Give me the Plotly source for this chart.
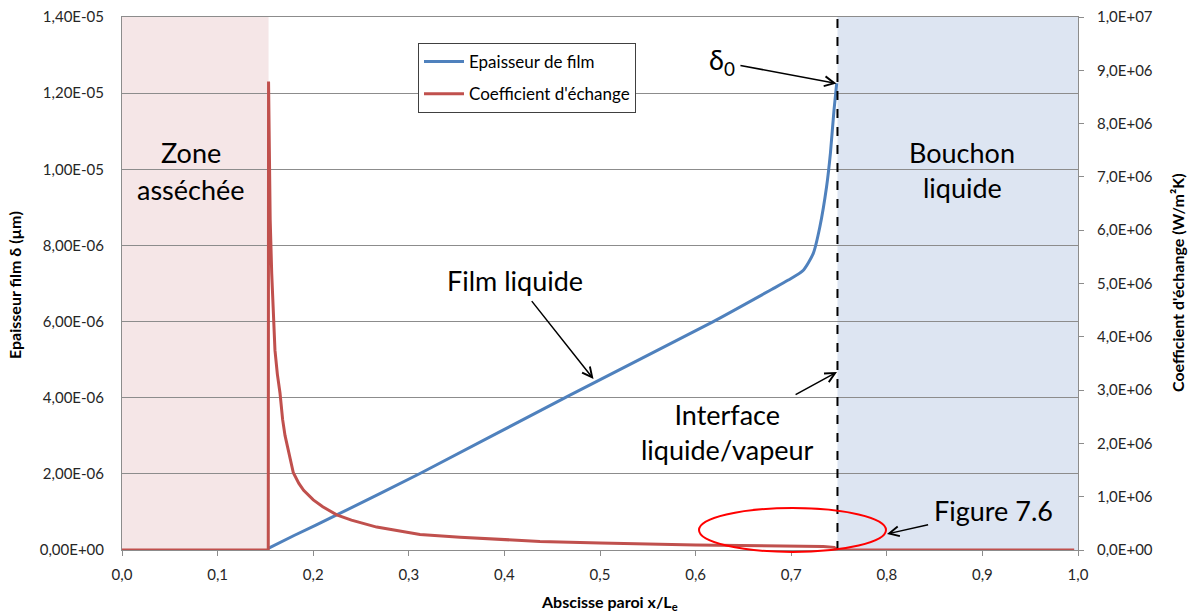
import plotly.graph_objects as go

# ---- data ----
x_film = [0.1535, 0.180, 0.2246, 0.3117, 0.4686, 0.6185, 0.680, 0.697, 0.7127,
          0.7231, 0.730, 0.737, 0.741, 0.7448, 0.7476]
film_thickness = [0.05e-6, 0.38e-6, 0.92e-6, 2.01e-6, 4.07e-6, 6.00e-6, 6.85e-6, 7.09e-6, 7.35e-6,
                  7.79e-6, 8.49e-6, 9.54e-6, 10.42e-6, 11.56e-6, 12.26e-6]

x_coef = [0.0, 0.1530, 0.1533, 0.1550, 0.1566, 0.1583, 0.1600, 0.1625, 0.1653, 0.1680,
          0.1705, 0.1730, 0.1757, 0.1792, 0.1850, 0.1900, 0.2001, 0.2100, 0.2246, 0.2400,
          0.2664, 0.2900, 0.3117, 0.3536, 0.4000, 0.4372, 0.5000, 0.5418, 0.6000, 0.6464,
          0.7000, 0.7336, 0.7450, 0.7484, 0.8500, 0.9960]
exchange_coef = [0.0, 0.0, 8.79e6, 6.20e6, 5.19e6, 4.30e6, 3.75e6, 3.30e6, 2.94e6, 2.45e6,
                 2.15e6, 1.95e6, 1.72e6, 1.45e6, 1.25e6, 1.12e6, 0.94e6, 0.81e6, 0.66e6, 0.56e6,
                 0.43e6, 0.35e6, 0.29e6, 0.24e6, 0.19e6, 0.16e6, 0.13e6, 0.11e6, 0.095e6, 0.085e6,
                 0.075e6, 0.065e6, 0.05e6, 0.0, 0.0, 0.0]

x_tick_vals = [0.0, 0.1, 0.2, 0.3, 0.4, 0.5, 0.6, 0.7, 0.8, 0.9, 1.0]
x_tick_text = ["0,0", "0,1", "0,2", "0,3", "0,4", "0,5", "0,6", "0,7", "0,8", "0,9", "1,0"]
y_tick_vals = [0, 2e-6, 4e-6, 6e-6, 8e-6, 10e-6, 12e-6, 14e-6]
y_tick_text = ["0,00E+00", "2,00E-06", "4,00E-06", "6,00E-06", "8,00E-06",
               "1,00E-05", "1,20E-05", "1,40E-05"]
y2_tick_vals = [i * 1e6 for i in range(11)]
y2_tick_text = ["0,0E+00", "1,0E+06", "2,0E+06", "3,0E+06", "4,0E+06", "5,0E+06",
                "6,0E+06", "7,0E+06", "8,0E+06", "9,0E+06", "1,0E+07"]

dry_end = 0.1533
interface_x = 0.7484

FONT = "Lato"
BLUE = "#4F81BD"
RED = "#C0504D"
GRID = "#8C8C8C"

fig = go.Figure()
fig.add_trace(go.Scatter(x=x_film, y=film_thickness, mode="lines", name="Epaisseur de film",
                         line=dict(color=BLUE, width=3, shape="spline", smoothing=0.6),
                         yaxis="y", legendgroup="a"))
fig.add_trace(go.Scatter(x=x_coef, y=exchange_coef, mode="lines", name="Coefficient d'échange",
                         line=dict(color=RED, width=3), yaxis="y2", legendgroup="b"))


def px_x(p):
    return (p - 122) / 956


def px_y(p):
    return (550 - p) / 533


shapes = [
    dict(type="rect", xref="x", yref="paper", x0=0, x1=dry_end, y0=0, y1=1,
         fillcolor="#F5E6E7", line=dict(width=0), layer="below"),
    dict(type="rect", xref="x", yref="paper", x0=interface_x, x1=1.0, y0=0, y1=1,
         fillcolor="#DDE5F2", line=dict(width=0), layer="below"),
    dict(type="line", xref="x", yref="paper", x0=interface_x, x1=interface_x, y0=0, y1=1,
         line=dict(color="black", width=2, dash="dash"), layer="above"),
    dict(type="circle", xref="x", yref="paper", x0=px_x(699), x1=px_x(886),
         y0=px_y(552), y1=px_y(508),
         line=dict(color="#FF0000", width=2), layer="above"),
]


def txt(xp, yp, s, size=27):
    return dict(x=px_x(xp), y=px_y(yp), xref="x", yref="paper", text=s, showarrow=False,
                xanchor="center", yanchor="middle",
                font=dict(family=FONT, size=size, color="black"))


def arrow_txt(hx, hy, tx, ty, s, size=27):
    # text centred at (tx, ty) pixels, arrow head at (hx, hy) pixels
    return dict(x=px_x(hx), y=px_y(hy), xref="x", yref="paper",
                ax=tx - hx, ay=ty - hy, axref="pixel", ayref="pixel",
                text=s, showarrow=True, arrowhead=5, arrowsize=1.3, arrowwidth=1.5,
                arrowcolor="black", standoff=0, startstandoff=4,
                xanchor="center", yanchor="middle",
                font=dict(family=FONT, size=size, color="black"))


title_font = dict(family=FONT, size=16, color="black")

annotations = [
    txt(191, 152, "Zone"),
    txt(191, 189, "asséchée"),
    txt(962, 152, "Bouchon"),
    txt(962, 187, "liquide"),
    arrow_txt(593.5, 379, 515, 280, "Film liquide"),
    arrow_txt(837, 372, 727, 432, "Interface<br>liquide/vapeur"),
    arrow_txt(887, 534, 993, 510, "Figure 7.6"),
    arrow_txt(836.5, 83.5, 722, 62, "δ<sub>0</sub>", size=27),
    # axis titles
    dict(x=px_x(14), y=px_y(285), xref="paper", yref="paper", text="<b>Epaisseur film δ (µm)</b>",
         textangle=-90, showarrow=False, xanchor="center", yanchor="middle", font=title_font),
    dict(x=px_x(1177), y=px_y(283), xref="paper", yref="paper",
         text="<b>Coefficient d'échange (W/m²K)</b>",
         textangle=-90, showarrow=False, xanchor="center", yanchor="middle", font=title_font),
    dict(x=px_x(609), y=px_y(602), xref="paper", yref="paper",
         text="<b>Abscisse paroi x/L<sub>e</sub></b>",
         showarrow=False, xanchor="center", yanchor="middle", font=title_font),
]

tickfont = dict(family=FONT, size=15, color="#262626")

fig.update_layout(
    width=1189, height=613,
    margin=dict(l=122, r=111, t=17, b=63),
    paper_bgcolor="white", plot_bgcolor="white",
    showlegend=True,
    legend=dict(x=px_x(418), y=px_y(43), xanchor="left", yanchor="top",
                bgcolor="white", bordercolor="#404040", borderwidth=1,
                font=dict(family=FONT, size=17, color="black"),
                tracegroupgap=7, itemwidth=40),
    xaxis=dict(range=[0, 1], tickvals=x_tick_vals, ticktext=x_tick_text, tickfont=tickfont,
               showgrid=False, zeroline=False, showline=True, linecolor=GRID, linewidth=1,
               mirror=True, ticks="outside", ticklen=5, tickcolor=GRID,
               ticklabelstandoff=6, automargin=False),
    yaxis=dict(range=[0, 1.4e-5], tickvals=y_tick_vals, ticktext=y_tick_text, tickfont=tickfont,
               showgrid=True, gridcolor=GRID, gridwidth=1, zeroline=False,
               showline=True, linecolor=GRID, ticks="", ticklabelstandoff=14, automargin=False),
    yaxis2=dict(range=[0, 1e7], tickvals=y2_tick_vals, ticktext=y2_tick_text, tickfont=tickfont,
                overlaying="y", side="right", showgrid=False, zeroline=False,
                showline=True, linecolor=GRID, ticks="outside", ticklen=5, tickcolor=GRID,
                ticklabelstandoff=10, automargin=False),
    shapes=shapes,
    annotations=annotations,
)

fig.write_html("out.html", config={"displayModeBar": False},
               post_script="document.body.style.margin='0px';")
